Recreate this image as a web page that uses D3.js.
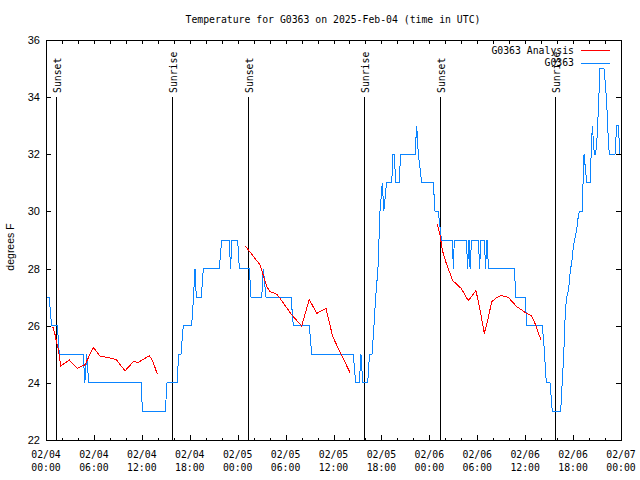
<!DOCTYPE html>
<html><head><meta charset="utf-8">
<script src="https://cdn.jsdelivr.net/npm/d3@7"></script>
<style>body{margin:0;background:#fff}svg{display:block}</style>
</head><body><svg id="c" width="640" height="480"></svg>
<script>
const titleText = "Temperature for G0363 on 2025-Feb-04 (time in UTC)";
const yLabelText = "degrees F";
const xTickHours = [0, 6, 12, 18, 24, 30, 36, 42, 48, 54, 60, 66, 72];
const xTickDates = ["02/04","02/04","02/04","02/04","02/05","02/05","02/05","02/05","02/06","02/06","02/06","02/06","02/07"];
const xTickTimes = ["00:00","06:00","12:00","18:00","00:00","06:00","12:00","18:00","00:00","06:00","12:00","18:00","00:00"];
const yTicks = [22, 24, 26, 28, 30, 32, 34, 36];
const seriesNames = ["G0363 Analysis", "G0363"];
const seriesColors = ["#ff0000", "#0a84ff"];
const sunEvents = ["Sunset","Sunrise","Sunset","Sunrise","Sunset","Sunrise"];
const sunHours = [1.28, 15.82, 25.3, 39.8, 49.3, 63.78];

// G0363 observations (hours since 02/04 00:00 UTC, degrees F)
const stationHours = [0.06,0.41,0.69,1.42,1.67,4.67,4.86,5.10,5.35,11.90,12.08,14.94,15.15,16.44,16.59,16.90,17.19,18.24,18.47,18.66,18.82,19.45,19.70,21.70,22.00,22.95,23.10,23.29,24.00,24.21,25.46,25.67,27.01,27.21,27.55,30.68,30.97,32.97,33.27,38.48,38.78,39.23,39.44,39.66,40.28,40.51,40.82,41.07,41.28,41.57,41.82,42.11,42.30,42.64,43.29,43.45,43.61,43.79,44.20,44.42,46.21,46.42,46.62,47.05,48.50,48.71,49.12,49.52,50.90,51.00,51.13,52.66,52.78,52.97,53.10,53.28,54.16,54.28,54.47,54.91,55.03,55.22,55.41,55.60,58.64,58.85,59.98,60.23,62.15,62.36,62.65,63.11,63.40,64.45,64.65,64.78,64.90,65.03,65.20,65.45,65.53,65.70,65.87,66.03,66.20,66.45,66.62,66.78,67.12,67.21,67.28,67.37,67.46,67.71,68.12,68.41,68.66,68.83,69.03,69.16,69.37,69.87,70.09,70.25,70.41,70.54,71.25,71.46,71.66,71.87];
const stationTemps = [27,27,26,26,25,25,24,25,24,24,23,23,24,24,25,25,26,26,27,28,27,27,28,28,29,29,28,29,29,28,28,27,27,28,27,27,26,26,25,25,24,24,25,24,24,25,25,26,27,28,30,31,30,31,31,32,32,31,31,32,32,33,32,31,31,30,30,29,29,28,29,29,28,29,28,29,29,28,29,29,28,29,28,28,28,27,27,26,26,25.3,24,24,23,23,24.1,24.7,25.5,26.5,27,27.25,27.6,28,28.3,28.77,29,29.35,29.76,30,30,30.5,31.45,32,31.74,31,31,33,32,32,32.7,33.55,35,35,34.3,33.55,32.5,32,32,33,33,32];

// G0363 Analysis (null = gap)
const analysisHours = [0.84,1.09,1.34,1.54,1.84,2.92,3.92,4.47,4.88,5.92,6.76,8.23,8.85,9.89,10.93,11.56,12.52,12.94,13.36,13.94,null,
  24.96,26.8,27.64,28.05,28.89,29.3,30.77,32.02,32.97,33.9,35.06,35.9,36.9,38.07,null,
  49.0,49.34,49.62,50.05,50.59,50.93,51.97,52.88,53.84,54.35,54.88,55.31,55.81,56.44,56.97,57.89,58.94,59.57,60.19,60.82,61.23,61.95];
const analysisTemps = [25.97,25.75,25.4,25.19,24.59,24.8,24.51,24.59,24.63,25.24,24.94,24.86,24.8,24.42,24.74,24.72,24.88,24.95,24.77,24.3,null,
  28.79,28.13,27.37,27.2,27.1,26.96,26.38,25.99,26.92,26.43,26.61,25.62,25.03,24.36,null,
  29.55,29.18,28.65,28.24,27.83,27.58,27.31,26.88,27.23,26.55,25.73,26.2,26.84,26.99,27.06,26.99,26.67,26.55,26.43,26.34,26.08,25.52];

const L = 46, R = 621, T = 40, B = 440;
const x = d3.scaleLinear().domain([0, 72]).range([L, R]);
const y = d3.scaleLinear().domain([22, 36]).range([B, T]);
const mono = "'DejaVu Sans Mono', monospace";
const sans = "'Liberation Sans', Arial, sans-serif";

const svg = d3.select("#c");
svg.append("rect").attr("width", 640).attr("height", 480).attr("fill", "#fff");

// title
svg.append("text").attr("x", 333).attr("y", 23).attr("text-anchor", "middle")
  .attr("font-family", mono).attr("font-size", 9.8).text(titleText);

// y label
svg.append("text").attr("transform", "translate(14,247) rotate(-90)")
  .attr("text-anchor", "middle").attr("font-family", sans).attr("font-size", 10.5).text(yLabelText);

const g = svg.append("g").attr("shape-rendering", "crispEdges");

// y axes (left & right)
const yLeft = d3.axisLeft(y).tickValues(yTicks).tickSizeInner(-5).tickSizeOuter(0).tickPadding(6);
const yl = g.append("g").attr("transform", `translate(${L},0)`).call(yLeft);
yl.select(".domain").remove();
yl.selectAll("text").attr("font-family", sans).attr("font-size", 11).attr("fill", "#000");
const yRight = d3.axisRight(y).tickValues(yTicks).tickSizeInner(-5).tickSizeOuter(0).tickFormat("");
const yr = g.append("g").attr("transform", `translate(${R},0)`).call(yRight);
yr.select(".domain").remove();

// x axes
const minorHours = d3.range(0, 73, 2).filter(h => h % 6 !== 0);
const xBotMajor = d3.axisBottom(x).tickValues(xTickHours).tickSizeInner(-5).tickSizeOuter(0).tickFormat("");
const xBotMinor = d3.axisBottom(x).tickValues(minorHours).tickSizeInner(-2).tickSizeOuter(0).tickFormat("");
const xTop = d3.axisTop(x).tickValues(d3.range(0, 73, 2)).tickSizeInner(-4).tickSizeOuter(0).tickFormat("");
[xBotMajor, xBotMinor].forEach(a => g.append("g").attr("transform", `translate(0,${B})`).call(a).select(".domain").remove());
g.append("g").attr("transform", `translate(0,${T})`).call(xTop).select(".domain").remove();

// x tick labels (two lines)
const xl = svg.append("g").attr("font-family", mono).attr("font-size", 9.8).attr("text-anchor", "middle");
xTickHours.forEach((h, i) => {
  const t = xl.append("text").attr("x", x(h)).attr("y", 458);
  t.append("tspan").attr("x", x(h)).text(xTickDates[i]);
  t.append("tspan").attr("x", x(h)).attr("dy", 13).text(xTickTimes[i]);
});

// sun lines
sunHours.forEach((h, i) => {
  const xx = Math.round(x(h)) + 0.5;
  g.append("line").attr("x1", xx).attr("x2", xx).attr("y1", y(34)).attr("y2", B)
    .attr("stroke", "#000").attr("stroke-width", 1);
  svg.append("text").attr("transform", `translate(${xx},93) rotate(-90)`)
    .attr("dy", 4).attr("font-family", mono).attr("font-size", 9.8).text(sunEvents[i]);
});

// data lines
const analysis = analysisHours.map((h, i) => ({h, v: analysisTemps[i]}));
const station = stationHours.map((h, i) => ({h, v: stationTemps[i]}));
const line = d3.line().defined(d => d.h !== null && d.v !== null).x(d => x(d.h)).y(d => y(d.v));
g.append("path").attr("d", line(station)).attr("fill", "none").attr("stroke", seriesColors[1]).attr("stroke-width", 1);
g.append("path").attr("d", line(analysis)).attr("fill", "none").attr("stroke", seriesColors[0]).attr("stroke-width", 1);

// frame
g.append("rect").attr("x", L + 0.5).attr("y", T + 0.5).attr("width", R - L).attr("height", B - T)
  .attr("fill", "none").attr("stroke", "#000").attr("stroke-width", 1);

// legend
const lg = svg.append("g").attr("font-family", mono).attr("font-size", 9.8);
seriesNames.forEach((n, i) => {
  const yy = 50 + i * 12.5;
  lg.append("text").attr("x", 574).attr("y", yy + 3.5).attr("text-anchor", "end").text(n);
  lg.append("line").attr("x1", 581).attr("x2", 610).attr("y1", Math.round(yy) + 0.5).attr("y2", Math.round(yy) + 0.5)
    .attr("stroke", seriesColors[i]).attr("stroke-width", 1).attr("shape-rendering", "crispEdges");
});
</script></body></html>
